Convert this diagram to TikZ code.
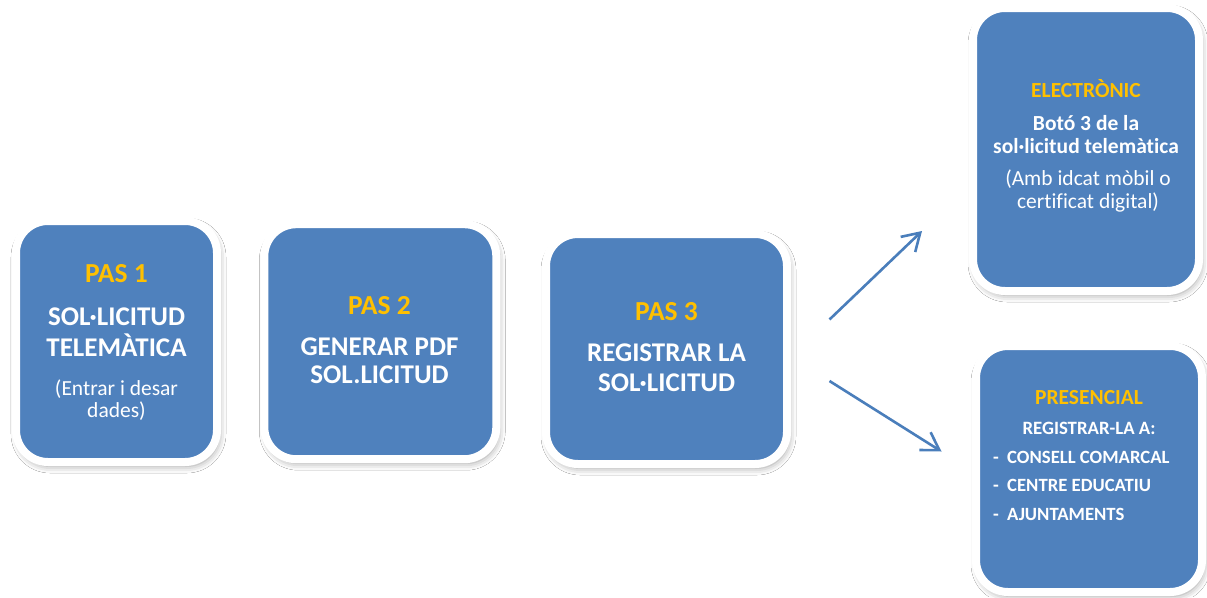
\documentclass[tikz,border=0pt]{standalone}
\usepackage{fontspec}
\setmainfont{Carlito}[Ligatures=NoCommon]
\usetikzlibrary{shadows.blur,arrows.meta}
\definecolor{boxblue}{HTML}{4F81BD}
\definecolor{gold}{HTML}{FFC000}
\definecolor{arrblue}{HTML}{4A7EBB}
\tikzset{
  card/.style={rectangle, fill=boxblue, draw=white, line width=8pt, rounded corners=32pt, inner sep=0pt,
    blur shadow={shadow xshift=2pt, shadow yshift=-4pt, shadow blur radius=7pt, shadow opacity=40}},
  head/.style={text=gold, font=\bfseries\fontsize{27.5}{32}\selectfont, anchor=base, inner sep=0pt},
  headsm/.style={text=gold, font=\bfseries\fontsize{21.5}{25}\selectfont, anchor=base, inner sep=0pt},
  main/.style={text=white, font=\bfseries\fontsize{27}{32}\selectfont, anchor=base, inner sep=0pt},
  mainsm/.style={text=white, font=\bfseries\fontsize{21.5}{25}\selectfont, anchor=base, inner sep=0pt},
  listsm/.style={text=white, font=\bfseries\fontsize{18.7}{22}\selectfont, anchor=base west, inner sep=0pt},
  sub/.style={text=white, font=\fontsize{21.5}{25}\selectfont, anchor=base, inner sep=0pt},
  flow/.style={draw=arrblue, line width=2.6pt, -{Straight Barb[length=17pt, width=21pt]}}
}
\begin{document}
\begin{tikzpicture}[x=1pt,y=-1pt]
\useasboundingbox[fill=white] (0,0) rectangle (1207,597);
% boxes
\node[card, minimum width=201pt, minimum height=241pt] (b1) at (116.5,341.5) {};
\node[card, minimum width=232pt, minimum height=235pt] (b2) at (380.3,341.7) {};
\node[card, minimum width=241pt, minimum height=230pt] (b3) at (666.5,349) {};
\node[card, minimum width=226pt, minimum height=283pt] (be) at (1086,149.5) {};
\node[card, minimum width=226pt, minimum height=246pt] (bp) at (1089,469) {};
% box 1
\node[head] (t1a) at (116.5,282.5) {PAS 1};
\node[main] (t1b) at (116.5,325) {SOL·LICITUD};
\node[main] (t1c) at (116.5,356.5) {TELEMÀTICA};
\node[sub] (t1d) at (116.5,395) {(Entrar i desar};
\node[sub] (t1e) at (116.5,417) {dades)};
% box 2
\node[head] (t2a) at (379.5,314.3) {PAS 2};
\node[main] (t2b) at (379.5,355.7) {GENERAR PDF};
\node[main] (t2c) at (379.5,383.3) {SOL.LICITUD};
% box 3
\node[head] (t3a) at (666.5,320) {PAS 3};
\node[main] (t3b) at (666.5,361.5) {REGISTRAR LA};
\node[main] (t3c) at (666.5,391.5) {SOL·LICITUD};
% electronic
\node[headsm] (tea) at (1086,97.5) {ELECTRÒNIC};
\node[mainsm] (teb) at (1086,130.5) {Botó 3 de la};
\node[mainsm] (tec) at (1086,153.5) {sol·licitud telemàtica};
\node[sub] (ted) at (1088,185) {(Amb idcat mòbil o};
\node[sub] (tee) at (1088,208.5) {certificat digital)};
% presencial
\node[headsm] (tpa) at (1089,404) {PRESENCIAL};
\node[mainsm, font=\bfseries\fontsize{18.8}{22}\selectfont] (tpb) at (1089,434) {REGISTRAR-LA A:};
\node[listsm] (d1) at (993,463) {-};
\node[listsm] (tp1) at (1007,463) {CONSELL COMARCAL};
\node[listsm] (d2) at (993,491.5) {-};
\node[listsm] (tp2) at (1007,491.5) {CENTRE EDUCATIU};
\node[listsm] (d3) at (993,520) {-};
\node[listsm] (tp3) at (1007,520) {AJUNTAMENTS};
% arrows
\coordinate (a1s) at (829.5,319.5);
\coordinate (a1e) at (922,231);
\coordinate (a2s) at (829.5,381);
\coordinate (a2e) at (941.5,451.5);
\draw[flow] (a1s) -- (a1e);
\draw[flow] (a2s) -- (a2e);
\end{tikzpicture}
\end{document}
